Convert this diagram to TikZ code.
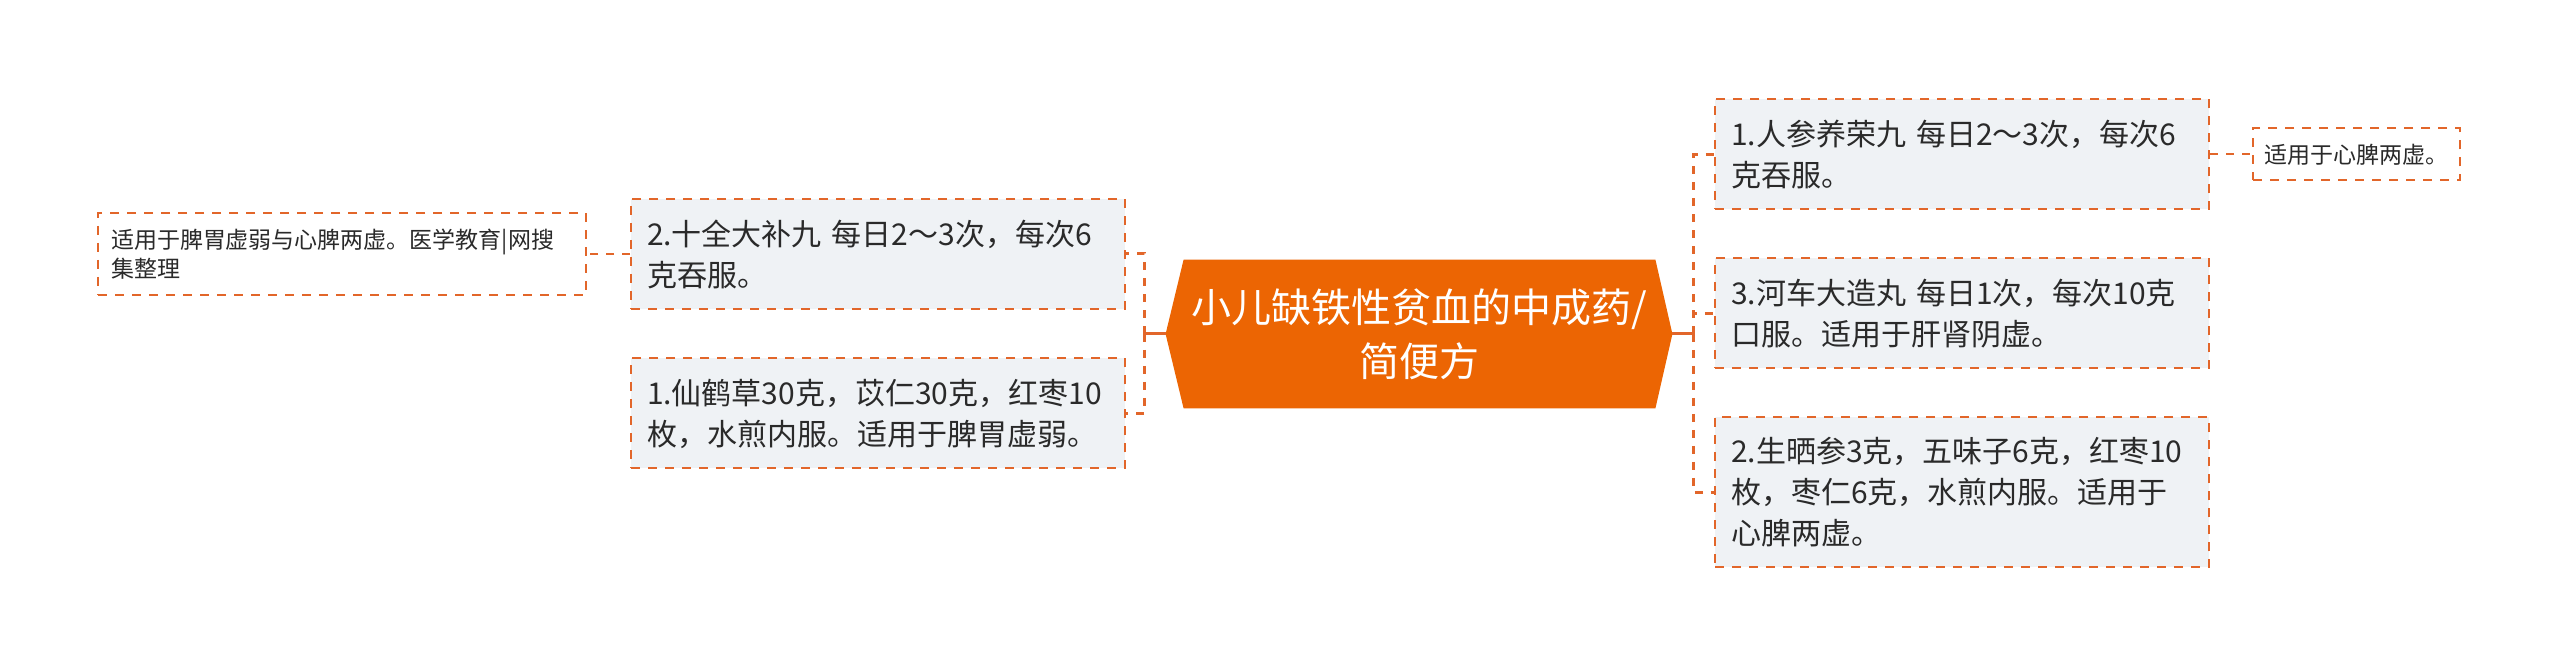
\documentclass[tikz,border=0pt]{standalone}
\usepackage{fontspec}
\newfontfamily\cjk{Noto Sans CJK SC}
\usetikzlibrary{backgrounds}
\definecolor{rootfill}{HTML}{EC6503}
\definecolor{edge}{HTML}{E2662A}
\definecolor{boxfill}{HTML}{EFF2F5}
\definecolor{ink}{HTML}{2A2A2A}
\tikzset{
  mbox/.style={draw=edge, line width=1pt, dash pattern=on 4.5pt off 4pt, fill=boxfill,
    text=ink, font=\cjk\fontsize{15pt}{20.5pt}\selectfont, align=left,
    text width=231pt, inner xsep=8pt, inner ysep=0pt, minimum height=55pt, anchor=west},
  leafbox/.style={draw=edge, line width=1pt, dash pattern=on 4.5pt off 4pt, fill=white,
    text=ink, font=\cjk\fontsize{11.5pt}{14.5pt}\selectfont, align=left, inner ysep=0pt},
  conn/.style={draw=edge, line width=1.5pt, dash pattern=on 4pt off 4pt},
  stub/.style={draw=edge, line width=1.5pt},
  roottext/.style={text=white, font=\cjk\fontsize{20pt}{27pt}\selectfont, align=center,
    minimum width=253pt, minimum height=74pt, inner sep=0pt}
}
\begin{document}
\begin{tikzpicture}[x=0.5pt, y=-0.5pt]
\useasboundingbox (0,0) rectangle (2560,667);

\node[roottext] (root) at (1419,334) {小儿缺铁性贫血的中成药/\\简便方};
\begin{scope}[on background layer]
\fill[white] (0,0) rectangle (2560,667);
\fill[rootfill] (root.west) -- ([xshift=9pt]root.north west) -- ([xshift=-8.5pt]root.north east)
  -- (root.east) -- ([xshift=-8.5pt]root.south east) -- ([xshift=9pt]root.south west) -- cycle;
\end{scope}

% left
\node[mbox] (L1) at (630,254) {2.十全大补九 每日2～3次，每次6\\克吞服。};
\node[mbox] (L2) at (630,413.5) {1.仙鹤草30克，苡仁30克，红枣10\\枚，水煎内服。适用于脾胃虚弱。};
\node[leafbox, anchor=east, text width=231pt, inner xsep=6.5pt, minimum height=41pt] (LL) at (587,254)
  {适用于脾胃虚弱与心脾两虚。医学教育|网搜\\集整理};

% right
\node[mbox] (R1) at (1714,154.5) {1.人参养荣九 每日2～3次，每次6\\克吞服。};
\node[mbox] (R2) at (1714,313.5) {3.河车大造丸 每日1次，每次10克\\口服。适用于肝肾阴虚。};
\node[mbox, minimum height=75pt] (R3) at (1714,492.5) {2.生晒参3克，五味子6克，红枣10\\枚，枣仁6克，水煎内服。适用于\\心脾两虚。};
\node[leafbox, anchor=west, text width=92.5pt, inner xsep=5.5pt, minimum height=26pt] (RL) at (2252,154.5)
  {适用于心脾两虚。};

% connectors
\coordinate (lj) at ([xshift=-10.5pt]root.west);
\coordinate (rj) at ([xshift=10.5pt]root.east);
\draw[stub] (root.west) -- (lj);
\draw[stub] (root.east) -- (rj);
\draw[conn] (lj) |- (L1.east);
\draw[conn] (lj) |- (L2.east);
\draw[conn] (rj) |- (R1.west);
\draw[conn] (rj) |- (R2.west);
\draw[conn] (rj) |- (R3.west);
\draw[conn, line width=1pt] (L1.west) -- (LL.east);
\draw[conn, line width=1pt] (R1.east) -- (RL.west);
\end{tikzpicture}
\end{document}
